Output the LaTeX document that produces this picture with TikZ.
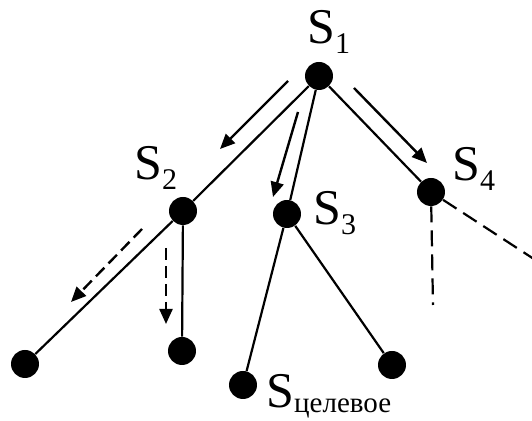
\documentclass[tikz,border=0pt]{standalone}
\usepackage{fontspec}
\setmainfont{Liberation Serif}
\usetikzlibrary{arrows.meta}

% state label with a lowered index
\newcommand{\Slab}[3]{S\raisebox{-#3}{\fontsize{#1}{#1}\selectfont #2}}

\begin{document}
\begin{tikzpicture}[
  x=0.5pt, y=-0.5pt,
  dot/.style={circle, fill=black, inner sep=0pt, minimum size=14pt},
  edge/.style={line width=1.1pt},
  ghost/.style={line width=1.1pt, dash pattern=on 8pt off 4pt},
  move/.style={line width=1.2pt, -{Triangle[length=7.5pt,width=6.5pt]}},
  ghostmove/.style={move, dash pattern=on 6pt off 3pt},
  lab/.style={anchor=base west, inner sep=0pt, font=\fontsize{25}{25}\selectfont},
]
  \useasboundingbox (0,0) rectangle (532,421);

  \node[dot] (s1) at (319,76)  {};
  \node[dot] (s2) at (183,211) {};
  \node[dot] (s3) at (287,214) {};
  \node[dot] (s4) at (431,192) {};
  \node[dot] (a1) at (25,364)  {};
  \node[dot] (a2) at (182,351) {};
  \node[dot] (goal) at (243,385) {};
  \node[dot] (b2) at (392,365) {};
  \coordinate (c1) at (433,305);
  \coordinate (c2) at (540,263);

  \node[lab] (l1) at (307,44)  {\Slab{15}{1}{5pt}};
  \node[lab] (l2) at (134,180) {\Slab{15}{2}{5pt}};
  \node[lab] (l3) at (313,225) {\Slab{15}{3}{5pt}};
  \node[lab] (l4) at (452,181) {\Slab{15}{4}{5pt}};
  \node[lab] (lg) at (266,408) {\Slab{14.5}{целевое}{2.5pt}};

  \draw[edge] (s1) -- (s2);
  \draw[edge] (s1) -- (s3);
  \draw[edge] (s1) -- (s4);
  \draw[edge] (s2) -- (a1);
  \draw[edge] (s2) -- (a2);
  \draw[edge] (s3) -- (goal);
  \draw[edge] (s3) -- (b2);
  \draw[ghost] (s4) -- (c1);
  \draw[ghost] (s4) -- (c2);

  % search steps
  \coordinate (m1a) at (288,81);  \coordinate (m1b) at (220,149);
  \coordinate (m2a) at (298,112); \coordinate (m2b) at (273,197);
  \coordinate (m3a) at (354,88);  \coordinate (m3b) at (427,163);
  \coordinate (m4a) at (142,229); \coordinate (m4b) at (71,302);
  \coordinate (m5a) at (166,248); \coordinate (m5b) at (166,324);
  \draw[move] (m1a) -- (m1b);
  \draw[move] (m2a) -- (m2b);
  \draw[move] (m3a) -- (m3b);
  \draw[ghostmove] (m4a) -- (m4b);
  \draw[ghostmove] (m5a) -- (m5b);
\end{tikzpicture}
\end{document}
